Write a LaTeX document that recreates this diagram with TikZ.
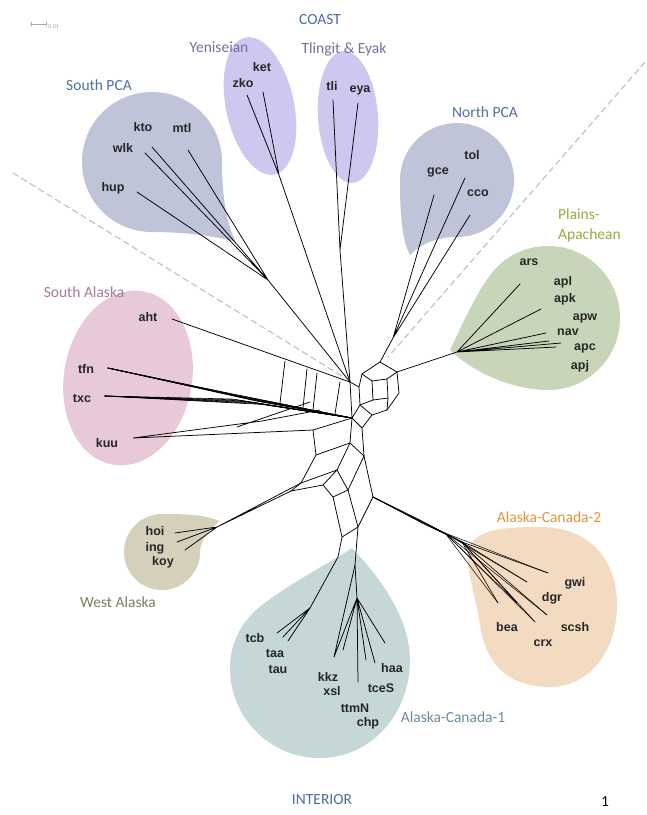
\documentclass[tikz,border=0pt]{standalone}
\usepackage{fontspec}
\setmainfont{Carlito}
\newfontfamily\leaffont{Liberation Sans}
\definecolor{pcaFill}{RGB}{191,196,216}
\definecolor{yenFill}{RGB}{206,200,240}
\definecolor{plFill}{RGB}{199,214,185}
\definecolor{saFill}{RGB}{231,201,216}
\definecolor{waFill}{RGB}{212,208,186}
\definecolor{acOneFill}{RGB}{197,215,215}
\definecolor{acTwoFill}{RGB}{243,219,193}
\definecolor{coastBlue}{RGB}{74,110,165}
\definecolor{pcaText}{RGB}{80,112,160}
\definecolor{yenText}{RGB}{118,108,160}
\definecolor{plText}{RGB}{150,172,60}
\definecolor{saText}{RGB}{168,120,148}
\definecolor{waText}{RGB}{128,124,96}
\definecolor{acTwoText}{RGB}{222,150,60}
\definecolor{acOneText}{RGB}{105,140,160}
\definecolor{leafc}{RGB}{38,38,38}
\begin{document}
\begin{tikzpicture}[x=1pt, y=-1pt, line join=round, line cap=round,
  grp/.style={inner sep=0pt, font=\fontsize{15.5}{20}\selectfont},
  leaf/.style={inner sep=0pt, text=leafc, font=\leaffont\bfseries\fontsize{12.5}{13}\selectfont},
  br/.style={line width=0.75pt, black},
  divide/.style={dash pattern=on 6pt off 4pt, line width=1.1pt, gray!50}]
\useasboundingbox (0,0) rectangle (647,815);

% group areas
\fill[yenFill, rotate around={12:(260,106)}] (260,106) ellipse [x radius=34, y radius=70];
\fill[yenFill, rotate around={4:(348,117)}] (348,117) ellipse [x radius=30, y radius=66];
\fill[saFill, rotate around={-10:(128,378)}] (128,378) ellipse [x radius=64, y radius=88];
\fill[pcaFill] (236,242) .. controls (228,228) and (222,200) .. (222,162)
  .. controls (222,123) and (191,92) .. (152,92) .. controls (113,92) and (82,123) .. (82,162)
  .. controls (82,201) and (113,232) .. (152,232) .. controls (185,232) and (215,236) .. (236,242) -- cycle;
\fill[pcaFill] (410,255) .. controls (402,240) and (400,215) .. (400,180)
  .. controls (400,148.5) and (425.5,123) .. (457,123) .. controls (488.5,123) and (514,148.5) .. (514,180)
  .. controls (514,211.5) and (488.5,237) .. (457,237) .. controls (435,237) and (420,245) .. (410,255) -- cycle;
\fill[plFill] (450,350) .. controls (462,325) and (480,284) .. (497,267)
  .. controls (510.5,253.5) and (529,246) .. (548,246) .. controls (588,246) and (620,278) .. (620,318)
  .. controls (620,358) and (588,390) .. (548,390) .. controls (510,390) and (470,370) .. (450,350) -- cycle;
\fill[waFill] (219,521) .. controls (205,514) and (180,514) .. (162,514)
  .. controls (141,514) and (124,531) .. (124,552) .. controls (124,573) and (141,590) .. (162,590)
  .. controls (183,590) and (200,573) .. (200,552) .. controls (200,540) and (210,530) .. (219,521) -- cycle;
\fill[acOneFill] (352,548) .. controls (335,560) and (295,580) .. (262,605)
  .. controls (240,622) and (230,645) .. (230,668) .. controls (230,718) and (270,758) .. (320,758)
  .. controls (370,758) and (410,715) .. (410,660) .. controls (410,615) and (375,572) .. (352,548) -- cycle;
\fill[acTwoFill] (470,545) .. controls (480,530) and (500,527) .. (540,527)
  .. controls (590,527) and (617,560) .. (617,605) .. controls (617,650) and (590,687) .. (550,687)
  .. controls (505,687) and (485,660) .. (480,625) .. controls (477,600) and (462,560) .. (470,545) -- cycle;

% coast / interior divide
\path (13,173) coordinate (divL) (345,378) coordinate (divLend)
      (645,62) coordinate (divR) (388,357) coordinate (divRend);
\draw[divide] (divL) -- (divLend);
\draw[divide] (divR) -- (divRend);

% network core
\path
 (350,382) coordinate (hub)   (352,418) coordinate (bj)
 (313,430) coordinate (kj)    (316,455) coordinate (l1)
 (301,483) coordinate (l2)    (291,491) coordinate (w2)
 (350,443) coordinate (c0)    (362,428) coordinate (c2)
 (364,456) coordinate (c1)    (337,470) coordinate (m1)
 (323,485) coordinate (m2)    (333,497) coordinate (m3)
 (348,490) coordinate (m4)    (373,497) coordinate (e0)
 (342,537) coordinate (n1)    (358,527) coordinate (n3)
 (338,557) coordinate (n2)    (355,565) coordinate (g0)
 (357,598) coordinate (g1)    (310,608) coordinate (tc)
 (362,374) coordinate (r1) (380,362) coordinate (r2) (397,372) coordinate (r3) (399,393) coordinate (r4)
 (387,410) coordinate (r5) (372,415) coordinate (r6) (360,405) coordinate (r7) (359,387) coordinate (r8)
 (372,381) coordinate (q1) (387,379) coordinate (q2) (388,398) coordinate (q3) (373,400) coordinate (q4)
 (285,361) coordinate (ua) (307,369) coordinate (ub) (317,373) coordinate (uc) (340,382) coordinate (ud)
 (280,403) coordinate (la) (303,408) coordinate (lb) (313,410) coordinate (lc) (335,414) coordinate (ld)
 ;
\draw[br] (r1)--(r2)--(r3)--(r4)--(r5)--(r6)--(r7)--(r8)--cycle;
\draw[br] (q1)--(q2)--(q3)--(q4)--cycle (r1)--(q1) (r3)--(q2) (r5)--(q3) (r7)--(q4);
\draw[br] (hub)--(r8) (hub)--(bj) (r7)--(bj) (bj)--(c2) (r6)--(c2)--(c1);
\draw[br] (bj)--(c0)--(c1) (kj)--(bj) (kj)--(l1)--(l2) (l1)--(c0);
\draw[br] (c0)--(m1) (l2)--(m1) (m1)--(m2)--(m3)--(m4)--(m1) (c1)--(m4) (c1)--(e0);
\draw[br] (m3)--(n1)--(n2)--(tc) (m4)--(n3)--(g0)--(g1) (n1)--(n3) (e0)--(n3) (l2)--(w2)--(m2);
\draw[br] (ua)--(la) (ub)--(lb) (uc)--(lc) (ud)--(ld);

% leaves: South PCA, Yeniseian, Tlingit & Eyak
\path (145,153) coordinate (wlkE) (152,147) coordinate (ktoE) (188,150) coordinate (mtlE)
      (137,192) coordinate (hupE) (268,280) coordinate (spJ)
      (247,95) coordinate (zkoE) (263,92) coordinate (ketE) (279,175) coordinate (yeJ)
      (333,100) coordinate (tliE) (358,103) coordinate (eyaE) (340,250) coordinate (tlJ);
\draw[br] (wlkE)--(spJ) (ktoE)--(spJ) (mtlE)--(spJ) (hupE)--(spJ) (spJ)--(hub);
\draw[br] (zkoE)--(yeJ) (ketE)--(yeJ) (yeJ)--(hub);
\draw[br] (tliE)--(tlJ) (eyaE)--(tlJ) (tlJ)--(hub);

% North PCA, Plains-Apachean
\path (434,195) coordinate (gceE) (465,178) coordinate (tolE) (470,215) coordinate (ccoE)
      (393,338) coordinate (npJ) (457,352) coordinate (paJ)
      (520,284) coordinate (arsE) (541,309) coordinate (aplE) (546,333) coordinate (navE)
      (561,343) coordinate (apcE) (556,347) coordinate (apjE) (549,341) coordinate (apwE);
\draw[br] (gceE)--(npJ) (tolE)--(npJ) (ccoE)--(npJ) (npJ)--(r2);
\draw[br] (r3)--(paJ) (paJ)--(arsE) (paJ)--(aplE) (paJ)--(navE) (paJ)--(apcE) (paJ)--(apjE) (paJ)--(apwE);

% South Alaska
\path (172,319) coordinate (ahtE) (108,368) coordinate (tfnE) (105,396) coordinate (txcE)
      (133,438) coordinate (kuuE) (237,427) coordinate (kuA) (262,421) coordinate (kuB);
\draw[br] (ahtE)--(hub);
\foreach \d in {0,...,6}{
  \draw[br, line width=0.6pt] (tfnE) -- ({228+\d*5},{393+\d*1.4}) -- (bj);
  \draw[br, line width=0.6pt] (txcE) -- ({232+\d*5},{399+\d*0.9}) -- (bj);
}
\draw[br] (kuuE)--(kj) (kuA)--(310,402) (kuB)--(320,410) (kuuE)--(kuB);

% West Alaska
\path (175,533) coordinate (hoiE) (177,542) coordinate (ingE) (185,550) coordinate (koyE)
      (217,527) coordinate (wa);
\draw[br] (hoiE)--(wa) (ingE)--(wa) (koyE)--(wa) (wa)--(l2) (wa)--(w2);

% Alaska-Canada-2
\path (462,542) coordinate (acJ) (548,573) coordinate (gwiE) (527,582) coordinate (dgrE)
      (547,615) coordinate (scshE) (535,622) coordinate (crxE) (498,603) coordinate (beaE)
      (517,603) coordinate (bebE);
\foreach \k in {0,...,4}
  \draw[br, line width=0.6pt] (e0) -- ({416+\k*2},{518+\k*1.5}) -- (acJ);
\foreach \t in {gwiE,dgrE,scshE,crxE,beaE,bebE}{
  \draw[br, line width=0.6pt] (acJ) -- (\t);
  \draw[br, line width=0.5pt] (445,533) -- (\t);
}

% Alaska-Canada-1
\path (385,643) coordinate (haaE) (375,663) coordinate (tceE) (358,682) coordinate (ttmE)
      (334,657) coordinate (kkzE) (343,650) coordinate (xslE) (366,660) coordinate (chpE)
      (277,633) coordinate (tcbE) (283,637) coordinate (taaE) (288,641) coordinate (tauE);
\draw[br] (g1)--(haaE) (g1)--(tceE) (g1)--(ttmE) (g1)--(kkzE) (g1)--(xslE) (g1)--(chpE) (g0)--(kkzE);
\draw[br] (tc)--(tcbE) (tc)--(taaE) (tc)--(tauE);

% group names
\node[grp, text=coastBlue] (coast) at (320,20) {COAST};
\node[grp, text=yenText] (yenlab) at (219,47) {Yeniseian};
\node[grp, text=yenText] (tlilab) at (344,49) {Tlingit \& Eyak};
\node[grp, text=pcaText] (spcalab) at (99,85) {South PCA};
\node[grp, text=pcaText] (npcalab) at (485,112) {North PCA};
\node[grp, text=plText, align=left, anchor=west] (plalab) at (558,225) {Plains-\\Apachean};
\node[grp, text=saText] (salab) at (84,292) {South Alaska};
\node[grp, text=waText] (walab) at (118,602) {West Alaska};
\node[grp, text=acTwoText] (ac2lab) at (549,517) {Alaska-Canada-2};
\node[grp, text=acOneText] (ac1lab) at (453,717) {Alaska-Canada-1};
\node[grp, text=coastBlue] (interior) at (322,800) {INTERIOR};
\node[grp] (pagenum) at (605,802) {1};

% scale bar
\path (31,24) coordinate (sbA) (46,24) coordinate (sbB);
\draw[gray!70, line width=0.5pt] (sbA)--(sbB) ([yshift=2pt]sbA)--([yshift=-2pt]sbA) ([yshift=2pt]sbB)--([yshift=-2pt]sbB);
\node[gray!70, inner sep=0pt, anchor=west, font=\fontsize{6}{6}\selectfont] (scale) at (48,27) {0.01};

% language codes
\node[leaf] (kto) at (143,127) {kto};
\node[leaf] (mtl) at (182,128) {mtl};
\node[leaf] (wlk) at (123,148) {wlk};
\node[leaf] (hup) at (113,188) {hup};
\node[leaf] (ket) at (262,67) {ket};
\node[leaf] (zko) at (243,83) {zko};
\node[leaf] (tli) at (332,86) {tli};
\node[leaf] (eya) at (360,90) {eya};
\node[leaf] (tol) at (472,155) {tol};
\node[leaf] (gce) at (438,172) {gce};
\node[leaf] (cco) at (478,193) {cco};
\node[leaf] (ars) at (529,262) {ars};
\node[leaf] (apl) at (563,282) {apl};
\node[leaf] (apk) at (565,299) {apk};
\node[leaf] (apw) at (585,318) {apw};
\node[leaf] (nav) at (568,332) {nav};
\node[leaf] (apc) at (585,348) {apc};
\node[leaf] (apj) at (580,366) {apj};
\node[leaf] (aht) at (148,317) {aht};
\node[leaf] (tfn) at (86,369) {tfn};
\node[leaf] (txc) at (82,398) {txc};
\node[leaf] (kuu) at (107,443) {kuu};
\node[leaf] (hoi) at (155,531) {hoi};
\node[leaf] (ing) at (155,548) {ing};
\node[leaf] (koy) at (163,562) {koy};
\node[leaf] (tcb) at (255,638) {tcb};
\node[leaf] (taa) at (275,653) {taa};
\node[leaf] (tau) at (278,669) {tau};
\node[leaf] (kkz) at (328,677) {kkz};
\node[leaf] (xsl) at (332,691) {xsl};
\node[leaf] (ttmN) at (355,708) {ttmN};
\node[leaf] (chp) at (368,723) {chp};
\node[leaf] (haa) at (392,668) {haa};
\node[leaf] (tceS) at (381,688) {tceS};
\node[leaf] (gwi) at (575,583) {gwi};
\node[leaf] (dgr) at (552,598) {dgr};
\node[leaf] (bea) at (507,627) {bea};
\node[leaf] (scsh) at (575,627) {scsh};
\node[leaf] (crx) at (543,643) {crx};
\end{tikzpicture}
\end{document}
